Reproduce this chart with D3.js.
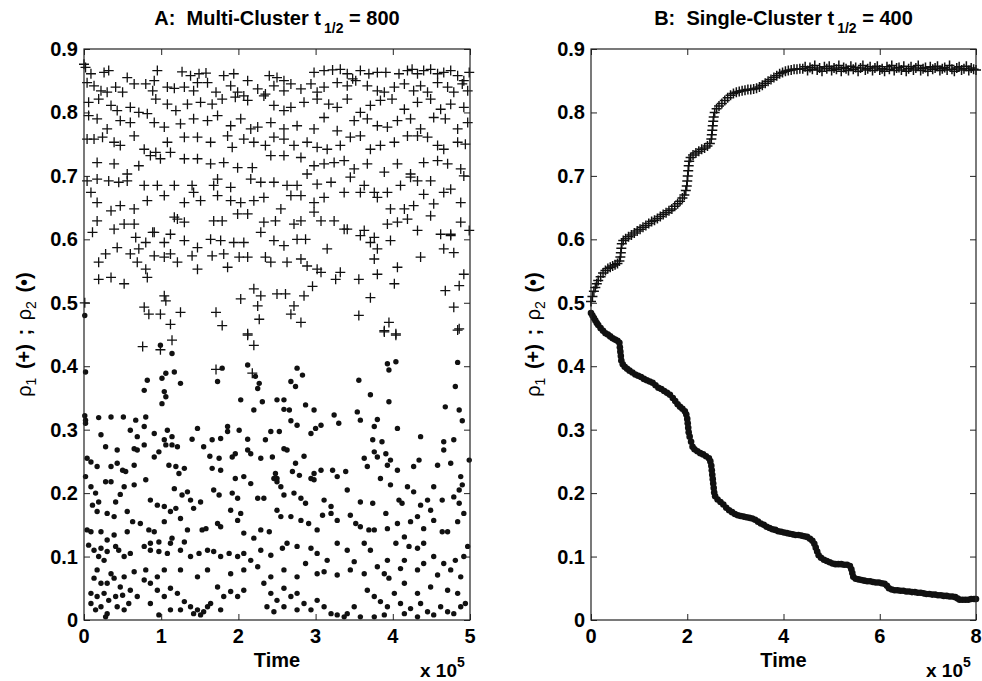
<!DOCTYPE html>
<html><head><meta charset="utf-8">
<script src="https://cdn.jsdelivr.net/npm/d3@7"></script>
<style>
body{margin:0;background:#fff}
svg{display:block}
text{font-family:"Liberation Sans",Arial,Helvetica,sans-serif;font-weight:bold;fill:#000;white-space:pre}
</style></head>
<body><svg id="c" width="982" height="681"></svg>
<script>
// ---------- data ----------
const yTicks = [0,0.1,0.2,0.3,0.4,0.5,0.6,0.7,0.8,0.9];
const yTickLabels = ["0","0.1","0.2","0.3","0.4","0.5","0.6","0.7","0.8","0.9"];
const xTicksA = [0,1,2,3,4,5];
const xTicksB = [0,2,4,6,8];
const titleA = ["A:  Multi-Cluster t","1/2"," = 800"];
const titleB = ["B:  Single-Cluster t","1/2"," = 400"];

// Panel A, rho1 (+) : [time (x1e5), value]
const plusA = [
[0.01,.500],[0.00,.876],
[0.02,.871],[0.09,.861],[0.26,.863],[0.32,.866],[0.56,.855],[0.95,.866],[1.27,.864],[1.38,.858],[1.49,.861],[1.58,.862],[1.81,.858],[1.94,.861],[2.12,.850],[2.40,.858],[2.50,.855],[2.59,.850],[2.98,.863],[3.11,.866],[3.22,.867],[3.32,.868],[3.41,.861],[3.48,.853],[3.58,.866],[3.69,.861],[3.80,.863],[3.91,.863],[4.08,.861],[4.19,.866],[4.25,.868],[4.32,.861],[4.40,.866],[4.49,.868],[4.58,.861],[4.66,.863],[4.75,.866],[4.84,.858],[4.92,.850],[4.99,.863],
[0.04,.847],[0.13,.842],[0.22,.834],[0.30,.832],[0.41,.840],[0.50,.832],[0.65,.845],[0.80,.845],[0.91,.850],[0.89,.834],[1.08,.840],[1.17,.838],[1.30,.840],[1.42,.834],[1.47,.847],[1.60,.847],[1.71,.832],[1.90,.842],[1.99,.832],[2.07,.826],[2.25,.837],[2.35,.829],[2.46,.842],[2.59,.834],[2.68,.845],[2.81,.837],[2.94,.845],[3.02,.832],[3.11,.840],[3.28,.847],[3.41,.842],[3.52,.850],[3.67,.842],[3.80,.834],[3.89,.832],[4.02,.840],[4.15,.845],[4.27,.834],[4.36,.842],[4.45,.832],[4.58,.847],[4.71,.840],[4.79,.832],[4.90,.845],[4.97,.834],
[0.06,.816],[0.19,.821],[0.35,.811],[0.43,.803],[0.60,.808],[0.71,.800],[0.93,.821],[1.08,.813],[1.19,.803],[1.34,.813],[1.51,.816],[1.66,.813],[1.79,.821],[1.96,.824],[2.12,.819],[2.33,.826],[2.46,.811],[2.59,.803],[2.68,.808],[2.85,.816],[3.02,.821],[3.17,.813],[3.28,.808],[3.41,.821],[3.58,.800],[3.71,.811],[3.84,.819],[3.99,.821],[4.15,.805],[4.32,.816],[4.49,.821],[4.62,.805],[4.75,.813],[4.92,.808],
[0.06,.795],[0.17,.790],[0.30,.774],[0.47,.787],[0.60,.784],[0.82,.798],[0.91,.784],[1.04,.777],[1.25,.782],[1.42,.790],[1.60,.787],[1.73,.795],[1.90,.779],[2.03,.790],[2.16,.774],[2.25,.777],[2.42,.784],[2.59,.774],[2.76,.779],[2.98,.774],[3.11,.792],[3.28,.771],[3.50,.787],[3.67,.790],[3.80,.779],[3.93,.777],[4.06,.787],[4.23,.790],[4.36,.774],[4.53,.792],[4.68,.790],[4.84,.774],[4.97,.784],
[0.04,.758],[0.13,.758],[0.24,.761],[0.39,.753],[0.47,.748],[0.65,.763],[0.78,.742],[0.93,.737],[1.08,.753],[1.30,.761],[1.47,.761],[1.64,.753],[1.86,.763],[1.92,.745],[2.07,.758],[2.20,.753],[2.35,.748],[2.46,.761],[2.59,.758],[2.72,.748],[2.89,.753],[3.02,.745],[3.15,.742],[3.32,.748],[3.45,.761],[3.58,.763],[3.71,.742],[3.84,.748],[4.02,.753],[4.19,.763],[4.32,.763],[4.45,.761],[4.58,.748],[4.66,.742],[4.84,.753],[4.94,.750],
[0.17,.721],[0.39,.719],[0.56,.703],[0.71,.716],[0.86,.732],[0.99,.727],[1.12,.737],[1.30,.727],[1.47,.727],[1.64,.719],[1.81,.721],[1.99,.713],[2.18,.713],[2.42,.732],[2.59,.732],[2.81,.729],[2.98,.716],[3.11,.719],[3.24,.721],[3.37,.724],[3.50,.711],[3.67,.719],[3.89,.706],[4.06,.719],[4.23,.703],[4.40,.721],[4.58,.724],[4.71,.719],[4.88,.711],
[0.04,.692],[0.17,.695],[0.32,.692],[0.45,.690],[0.56,.692],[0.78,.685],[0.95,.685],[1.17,.685],[1.40,.685],[1.68,.685],[1.73,.695],[1.90,.682],[2.16,.695],[2.29,.690],[2.46,.690],[2.63,.685],[2.76,.685],[2.89,.703],[3.02,.687],[3.20,.690],[3.45,.698],[3.63,.685],[3.76,.674],[3.93,.674],[4.10,.685],[4.23,.698],[4.32,.692],[4.49,.692],[4.75,.679],[4.92,.700],
[0.09,.674],[0.17,.658],[0.35,.645],[0.47,.653],[0.65,.648],[0.82,.661],[1.04,.669],[1.30,.658],[1.42,.674],[1.51,.661],[1.73,.669],[1.90,.661],[2.03,.658],[2.20,.661],[2.33,.666],[2.55,.648],[2.68,.669],[2.81,.669],[2.98,.658],[3.11,.666],[3.37,.674],[3.58,.674],[3.80,.666],[3.97,.648],[4.15,.648],[4.27,.653],[4.40,.671],[4.53,.656],[4.66,.674],[4.88,.658],
[0.17,.629],[0.39,.616],[0.52,.624],[0.65,.624],[0.89,.611],[1.17,.635],[1.21,.632],[1.30,.627],[1.68,.629],[1.79,.629],[1.99,.640],[2.12,.640],[2.33,.627],[2.48,.629],[2.72,.624],[2.81,.629],[2.98,.643],[3.07,.629],[3.24,.629],[3.41,.616],[3.63,.614],[3.76,.603],[3.93,.624],[4.06,.627],[4.19,.632],[4.32,.614],[4.49,.637],[4.62,.608],[4.75,.608],[4.88,.627],[4.99,.614],
[0.11,.611],[0.43,.587],[0.67,.603],[0.71,.585],[0.80,.595],[0.91,.611],[1.04,.595],[1.12,.608],[1.30,.598],[1.47,.587],[1.64,.600],[1.77,.598],[1.94,.595],[2.07,.595],[2.29,.611],[2.46,.598],[2.59,.590],[2.76,.600],[2.87,.600],[3.15,.585],[3.37,.616],[3.58,.606],[3.71,.595],[3.80,.585],[3.97,.598],[4.36,.572],[4.66,.585],[4.79,.579],[4.75,.606],
[0.19,.564],[0.28,.577],[0.60,.577],[0.69,.564],[0.80,.553],[0.91,.574],[1.04,.572],[1.12,.577],[1.21,.564],[1.40,.574],[1.47,.553],[1.66,.574],[1.81,.577],[1.86,.556],[2.01,.572],[2.12,.572],[2.35,.572],[2.42,.564],[2.63,.564],[2.81,.569],[2.89,.558],[3.02,.553],[3.07,.548],[3.26,.537],[3.32,.548],[3.56,.537],[3.76,.569],[3.80,.545],[4.06,.556],[4.92,.545],[0.19,.537],[0.35,.540],[0.52,.530],[0.82,.540],
[1.04,.511],[1.06,.503],[0.78,.493],[0.84,.482],[0.99,.482],[1.12,.466],[1.25,.485],[1.71,.485],[1.79,.464],[2.03,.506],[2.12,.451],[2.20,.522],[2.29,.511],[2.25,.495],[2.27,.474],[2.50,.514],[2.61,.514],[2.72,.495],[2.68,.482],[2.81,.469],[2.85,.511],[2.96,.526],[3.56,.480],[3.71,.508],[3.89,.456],[3.95,.469],[4.02,.530],[4.04,.451],[4.68,.519],[4.79,.493],[4.86,.527],[4.86,.459],
[0.76,.431],[0.99,.426],[1.14,.441],[1.71,.395],[2.12,.449],[2.20,.433],[2.18,.389],[3.89,.454],[4.04,.449],[4.84,.457]
];

// Panel A, rho2 (dot) : [time (x1e5), value]
const dotA = [
[0.01,.480],
[1.14,.420],[0.78,.362],[0.82,.378],[1.01,.381],[1.06,.389],[1.17,.391],[1.25,.373],[1.04,.360],[1.06,.352],[1.01,.341],[1.73,.376],[1.79,.397],[2.12,.402],[2.22,.384],[2.25,.365],[2.27,.373],[2.03,.347],[2.20,.331],[2.31,.344],[2.50,.347],[2.59,.347],[2.76,.397],[2.83,.386],[2.68,.376],[2.74,.368],[3.56,.378],[3.71,.355],[3.93,.404],[3.95,.394],[4.04,.407],[3.95,.344],[4.84,.406],[4.81,.368],[4.86,.331],[4.90,.314],[4.68,.336],[0.02,.391],[0.99,.433],
[0.02,.315],[0.02,.310],[0.01,.322],[0.19,.319],[0.35,.320],[0.51,.320],[0.67,.315],[0.80,.320],[0.78,.305],[0.60,.299],[0.69,.289],[0.22,.292],[0.91,.294],[1.08,.299],[1.04,.284],[1.14,.289],[1.40,.285],[1.47,.302],[1.66,.284],[1.77,.286],[1.86,.305],[1.86,.297],[2.01,.299],[2.12,.285],[2.35,.284],[2.42,.297],[2.53,.297],[2.59,.332],[2.66,.331],[2.68,.314],[2.76,.307],[2.87,.339],[2.98,.331],[2.94,.294],[3.00,.302],[3.07,.307],[3.24,.323],[3.30,.310],[3.54,.328],[3.58,.315],[3.80,.316],[3.76,.305],[3.74,.284],[3.86,.281],[4.06,.302],[4.36,.289],[4.66,.281],[4.79,.284],
[0.04,.255],[0.09,.249],[0.17,.242],[0.28,.273],[0.43,.268],[0.35,.242],[0.43,.247],[0.50,.236],[0.54,.234],[0.65,.244],[0.65,.270],[0.78,.276],[0.69,.268],[0.91,.257],[0.97,.265],[1.06,.276],[1.14,.276],[1.21,.273],[1.10,.244],[1.19,.242],[1.30,.239],[1.23,.231],[1.55,.273],[1.63,.258],[1.75,.255],[1.66,.239],[1.77,.236],[1.92,.257],[1.96,.262],[2.12,.268],[2.16,.262],[2.29,.255],[2.44,.257],[2.59,.270],[2.63,.268],[2.48,.231],[2.50,.223],[2.70,.234],[2.79,.228],[2.74,.247],[2.85,.258],[2.98,.231],[3.07,.236],[2.94,.223],[3.22,.236],[3.28,.226],[3.39,.234],[3.63,.255],[3.67,.242],[3.76,.265],[3.80,.257],[3.91,.262],[3.93,.244],[3.97,.252],[4.06,.236],[4.27,.242],[4.34,.252],[4.58,.244],[4.75,.247],[4.88,.226],[4.99,.252],[4.66,.268],
[0.02,.226],[0.09,.210],[0.15,.200],[0.11,.181],[0.19,.186],[0.28,.218],[0.35,.218],[0.47,.198],[0.41,.186],[0.52,.210],[0.65,.213],[0.80,.221],[0.86,.189],[0.95,.181],[1.04,.179],[1.12,.171],[1.19,.176],[1.17,.207],[1.27,.197],[1.34,.202],[1.38,.189],[1.51,.186],[1.68,.205],[1.75,.197],[1.92,.200],[1.99,.192],[1.96,.223],[2.07,.226],[2.16,.215],[2.25,.192],[2.33,.192],[2.46,.223],[2.50,.218],[2.55,.210],[2.59,.197],[2.72,.200],[2.81,.192],[2.87,.184],[2.98,.221],[3.11,.189],[3.20,.179],[3.41,.205],[3.58,.186],[3.74,.184],[3.84,.223],[3.97,.213],[4.08,.189],[4.12,.184],[4.19,.210],[4.27,.202],[4.36,.181],[4.45,.189],[4.53,.210],[4.64,.189],[4.79,.194],[4.86,.205],[4.90,.213],[4.86,.184],
[0.17,.171],[0.30,.168],[0.39,.163],[0.56,.171],[0.63,.155],[0.73,.152],[0.84,.142],[0.91,.139],[1.04,.155],[1.25,.160],[1.34,.142],[1.42,.176],[1.53,.142],[1.58,.144],[1.73,.152],[1.77,.147],[1.90,.173],[1.99,.157],[2.03,.168],[2.07,.137],[2.20,.129],[2.29,.142],[2.40,.139],[2.50,.173],[2.55,.163],[2.68,.163],[2.81,.157],[2.91,.152],[3.02,.142],[3.09,.165],[3.20,.168],[3.28,.157],[3.45,.165],[3.52,.152],[3.58,.147],[3.69,.142],[3.76,.142],[3.91,.168],[3.93,.144],[4.06,.152],[4.15,.131],[4.23,.155],[4.32,.163],[4.40,.144],[4.49,.173],[4.53,.157],[4.64,.139],[4.71,.139],[4.84,.155],[4.92,.168],[0.04,.142],[0.09,.139],[0.22,.139],[0.30,.126],[0.39,.134],[0.56,.139],[0.86,.121],[0.97,.123],[1.12,.121],[1.14,.129],[1.30,.123],
[0.06,.118],[0.13,.110],[0.22,.113],[0.30,.108],[0.41,.116],[0.45,.110],[0.19,.100],[0.26,.094],[0.52,.100],[0.60,.105],[0.78,.116],[0.86,.110],[0.97,.108],[1.08,.105],[1.25,.110],[1.38,.100],[1.49,.105],[1.60,.110],[1.68,.108],[1.77,.100],[1.88,.105],[1.99,.100],[2.07,.105],[2.16,.094],[2.29,.110],[2.42,.102],[2.57,.113],[2.63,.121],[2.76,.116],[2.87,.089],[2.94,.113],[3.02,.105],[3.15,.094],[3.28,.121],[3.41,.110],[3.50,.092],[3.63,.121],[3.71,.110],[3.80,.084],[3.93,.094],[4.04,.121],[4.15,.094],[4.21,.116],[4.32,.113],[4.40,.121],[4.53,.100],[4.66,.089],[4.81,.094],[4.92,.100],[4.97,.116],
[0.17,.079],[0.35,.073],[0.52,.068],[0.65,.076],[0.80,.079],[0.95,.068],[1.04,.079],[1.25,.079],[1.47,.068],[1.60,.079],[1.90,.073],[2.07,.079],[2.25,.084],[2.42,.068],[2.59,.079],[2.76,.068],[3.02,.073],[3.11,.076],[3.28,.071],[3.45,.079],[3.63,.073],[3.89,.073],[4.10,.081],[4.32,.079],[4.40,.089],[4.58,.071],[4.75,.079],[4.88,.068],
[0.13,.066],[0.22,.058],[0.30,.058],[0.39,.066],[0.47,.052],[0.60,.047],[0.69,.037],[0.78,.063],[0.09,.042],[0.17,.037],[0.26,.042],[0.32,.031],[0.41,.037],[0.50,.039],[0.58,.026],[0.09,.026],[0.22,.021],[0.30,.010],[0.43,.021],[0.52,.016],[0.15,.016],[0.28,.005],[0.86,.058],[0.95,.047],[1.04,.037],[1.12,.050],[1.21,.042],[1.30,.029],[1.38,.021],[1.47,.016],[1.55,.013],[1.64,.026],[0.86,.026],[0.97,.008],[1.12,.016],[1.25,.016],[1.42,.010],[1.51,.008],[1.60,.021],[1.77,.016],[1.81,.037],[1.90,.045],[1.99,.037],[2.07,.047],[1.73,.052],[2.33,.058],[2.42,.042],[2.50,.031],[2.59,.050],[2.68,.037],[2.76,.042],[2.85,.026],[3.02,.031],[3.11,.021],[3.20,.010],[3.28,.008],[3.37,.005],[3.41,.010],[3.50,.021],[3.58,.005],[2.37,.021],[2.46,.013],[2.59,.021],[2.76,.016],[2.94,.016],[3.67,.047],[3.76,.037],[3.84,.029],[3.93,.021],[4.02,.042],[4.10,.026],[4.15,.010],[4.23,.018],[4.32,.042],[4.36,.026],[4.45,.013],[4.53,.008],[4.62,.021],[4.71,.013],[4.79,.010],[4.88,.021],[4.94,.026],[4.84,.042],[4.71,.047],[4.49,.052],[4.15,.058],[3.95,.066],[3.76,.005],[3.89,.008],[4.32,.005]
];

// Panel B, rho1 (+)
const plusB = [
[0.00,.502],[0.03,.510],[0.06,.518],[0.09,.524],[0.12,.530],[0.15,.535],[0.20,.541],[0.25,.547],[0.30,.551],[0.35,.554],[0.40,.556],[0.45,.558],[0.50,.560],[0.55,.562],[0.59,.566],[0.61,.572],[0.62,.579],[0.63,.586],[0.64,.593],[0.67,.598],[0.72,.601],[0.78,.604],[0.84,.607],[0.90,.610],[0.96,.613],[1.02,.616],[1.08,.619],[1.14,.622],[1.20,.625],[1.26,.628],[1.32,.630],[1.38,.633],[1.44,.636],[1.50,.639],[1.56,.642],[1.62,.645],[1.68,.648],[1.74,.652],[1.80,.656],[1.85,.660],[1.90,.665],[1.94,.670],[1.97,.677],[1.99,.684],[2.00,.692],[2.01,.700],[2.02,.708],[2.03,.716],[2.04,.723],[2.07,.729],[2.12,.733],[2.18,.736],[2.24,.739],[2.30,.742],[2.36,.744],[2.42,.747],[2.47,.751],[2.50,.758],[2.51,.765],[2.52,.772],[2.53,.779],[2.54,.786],[2.55,.793],[2.57,.800],[2.61,.806],[2.66,.810],[2.72,.814],[2.78,.819],[2.84,.823],[2.90,.827],[2.96,.830],[3.02,.832],[3.08,.833],[3.14,.834],[3.20,.835],[3.26,.836],[3.32,.836],[3.38,.837],[3.44,.838],[3.50,.840],[3.56,.843],[3.62,.846],[3.68,.849],[3.74,.852],[3.80,.855],[3.86,.858],[3.92,.861],[3.98,.863],[4.04,.865],[4.10,.866],[4.16,.867],[4.22,.868],[4.28,.868],[4.34,.869],
[4.40,.869],[4.45,.872],[4.50,.866],[4.55,.871],[4.60,.868],[4.65,.874],[4.70,.867],[4.75,.870],[4.80,.865],[4.85,.872],[4.90,.869],[4.95,.873],[5.00,.866],[5.05,.870],[5.10,.868],[5.15,.874],[5.20,.865],[5.25,.871],[5.30,.869],[5.35,.866],[5.40,.873],[5.45,.868],[5.50,.871],[5.55,.865],[5.60,.870],[5.65,.874],[5.70,.867],[5.75,.869],[5.80,.872],[5.85,.866],[5.90,.870],[5.95,.873],[6.00,.867],[6.05,.869],[6.10,.865],[6.15,.872],[6.20,.868],[6.25,.874],[6.30,.866],[6.35,.870],[6.40,.871],[6.45,.867],[6.50,.873],[6.55,.865],[6.60,.869],[6.65,.872],[6.70,.867],[6.75,.870],[6.80,.874],[6.85,.866],[6.90,.869],[6.95,.871],[7.00,.865],[7.05,.872],[7.10,.868],[7.15,.870],[7.20,.873],[7.25,.866],[7.30,.869],[7.35,.871],[7.40,.867],[7.45,.874],[7.50,.868],[7.55,.865],[7.60,.870],[7.65,.872],[7.70,.867],[7.75,.869],[7.80,.873],[7.85,.866],[7.90,.870],[7.95,.868],[8.00,.867]
];

// Panel B, rho2 (dot)
const dotB = [
[0.00,.484],[0.03,.480],[0.06,.476],[0.09,.472],[0.12,.468],[0.15,.465],[0.20,.460],[0.25,.456],[0.30,.452],[0.35,.450],[0.40,.447],[0.45,.444],[0.50,.442],[0.55,.440],[0.59,.437],[0.60,.430],[0.61,.423],[0.62,.416],[0.63,.409],[0.66,.403],[0.70,.399],[0.75,.396],[0.80,.393],[0.86,.390],[0.92,.387],[0.98,.385],[1.04,.383],[1.10,.380],[1.16,.378],[1.22,.376],[1.28,.374],[1.34,.370],[1.40,.366],[1.46,.364],[1.52,.361],[1.58,.358],[1.64,.355],[1.70,.350],[1.75,.345],[1.80,.340],[1.85,.336],[1.90,.333],[1.95,.329],[1.98,.324],[2.00,.317],[2.01,.310],[2.02,.303],[2.03,.296],[2.05,.289],[2.08,.281],[2.11,.273],[2.15,.269],[2.21,.266],[2.27,.263],[2.33,.261],[2.39,.258],[2.45,.255],[2.48,.250],[2.50,.243],[2.51,.236],[2.52,.229],[2.53,.222],[2.54,.215],[2.55,.208],[2.56,.201],[2.58,.195],[2.63,.190],[2.69,.186],[2.75,.182],[2.81,.177],[2.87,.173],[2.93,.170],[2.99,.167],[3.05,.165],[3.11,.164],[3.17,.163],[3.23,.162],[3.29,.161],[3.35,.160],[3.41,.158],[3.47,.155],[3.53,.152],[3.59,.150],[3.65,.147],[3.71,.145],[3.77,.143],[3.83,.142],[3.89,.140],[3.95,.139],[4.01,.138],[4.07,.137],[4.13,.136],[4.19,.135],[4.25,.134],[4.31,.134],[4.37,.133],[4.43,.132],[4.49,.131],[4.55,.128],[4.60,.125],[4.64,.120],[4.67,.114],[4.70,.108],[4.73,.102],[4.78,.098],[4.84,.095],[4.90,.093],[4.96,.091],[5.02,.089],[5.08,.088],[5.14,.088],[5.20,.088],[5.26,.087],[5.32,.087],[5.38,.085],[5.41,.080],[5.43,.074],[5.45,.068],[5.50,.065],[5.56,.064],[5.62,.063],[5.68,.062],[5.74,.061],[5.80,.061],[5.86,.060],[5.92,.059],[5.98,.059],[6.04,.058],[6.10,.057],[6.15,.054],[6.19,.050],[6.25,.048],[6.31,.047],[6.37,.047],[6.43,.046],[6.49,.046],[6.55,.045],[6.61,.045],[6.67,.044],[6.73,.044],[6.79,.043],[6.85,.043],[6.91,.042],[6.97,.041],[7.03,.041],[7.09,.040],[7.15,.040],[7.21,.039],[7.27,.039],[7.33,.038],[7.39,.038],[7.45,.037],[7.51,.037],[7.57,.036],[7.62,.034],[7.66,.032],[7.72,.032],[7.78,.032],[7.84,.032],[7.90,.033],[7.96,.033],[8.00,.033]
];

// ---------- drawing ----------
const svg = d3.select("#c");
const FS = 20;

function panel(cfg){
  const x = d3.scaleLinear().domain(cfg.xDomain).range([cfg.left, cfg.right]);
  const y = d3.scaleLinear().domain([0,0.9]).range([cfg.bottom, cfg.top]);
  const g = svg.append("g");
  const tl = 6;

  // markers
  g.append("g").selectAll("path").data(cfg.plus).join("path")
    .attr("d", d => `M${x(d[0])-cfg.ps},${y(d[1])}h${2*cfg.ps}M${x(d[0])},${y(d[1])-cfg.ps}v${2*cfg.ps}`)
    .attr("stroke", "#111").attr("stroke-width", cfg.pw).attr("fill", "none");
  g.append("g").selectAll("circle").data(cfg.dots).join("circle")
    .attr("cx", d => x(d[0])).attr("cy", d => y(d[1])).attr("r", cfg.dr).attr("fill", "#111");

  // axes (ticks inward, all four sides)
  const axB = d3.axisBottom(x).tickValues(cfg.xTicks).tickSize(-tl).tickFormat("");
  const axT = d3.axisTop(x).tickValues(cfg.xTicks).tickSize(-tl).tickFormat("");
  const axL = d3.axisLeft(y).tickValues(yTicks).tickSize(-tl).tickFormat("");
  const axR = d3.axisRight(y).tickValues(yTicks).tickSize(-tl).tickFormat("");
  const style = s => { s.select(".domain").remove(); s.selectAll("line").attr("stroke","#222").attr("stroke-width",1); };
  g.append("g").attr("transform",`translate(0,${cfg.bottom})`).call(axB).call(style);
  g.append("g").attr("transform",`translate(0,${cfg.top})`).call(axT).call(style);
  g.append("g").attr("transform",`translate(${cfg.left},0)`).call(axL).call(style);
  g.append("g").attr("transform",`translate(${cfg.right},0)`).call(axR).call(style);
  g.append("rect").attr("x",cfg.left).attr("y",cfg.top)
    .attr("width",cfg.right-cfg.left).attr("height",cfg.bottom-cfg.top)
    .attr("fill","none").attr("stroke","#222").attr("stroke-width",1.2);

  // tick labels
  g.append("g").selectAll("text").data(yTicks).join("text")
    .attr("x", cfg.left-6).attr("y", d => y(d)+7).attr("text-anchor","end")
    .attr("font-size", FS).text((d,i) => yTickLabels[i]);
  g.append("g").selectAll("text").data(cfg.xTicks).join("text")
    .attr("x", d => x(d)).attr("y", cfg.bottom+23).attr("text-anchor","middle")
    .attr("font-size", FS).text(d => String(d));

  // x label
  g.append("text").attr("x",(cfg.left+cfg.right)/2).attr("y",cfg.bottom+47)
    .attr("text-anchor","middle").attr("font-size",20).text("Time");
  const ex = g.append("text").attr("x",cfg.right-50).attr("y",cfg.bottom+57).attr("font-size",19);
  ex.append("tspan").text("x 10");
  ex.append("tspan").attr("dy",-10).attr("font-size",14).text("5");

  // title
  const t = g.append("text").attr("x",(cfg.left+cfg.right)/2).attr("y",cfg.top-24)
    .attr("text-anchor","middle").attr("font-size",FS);
  t.append("tspan").text(cfg.title[0]);
  t.append("tspan").attr("dy",8).attr("dx",3).attr("font-size",14).text(cfg.title[1]);
  t.append("tspan").attr("dy",-8).text(cfg.title[2]);

  // y label
  const yl = g.append("text")
    .attr("transform",`translate(${cfg.ylx},${(cfg.top+cfg.bottom)/2}) rotate(-90)`)
    .attr("text-anchor","middle").attr("font-size",20).attr("word-spacing",3);
  yl.append("tspan").attr("font-weight","normal").text("\u03C1");
  yl.append("tspan").attr("dy",5).attr("font-size",14).attr("font-weight","normal").text("1");
  yl.append("tspan").attr("dy",-5).text(" (+) ; ");
  yl.append("tspan").attr("font-weight","normal").text("\u03C1");
  yl.append("tspan").attr("dy",5).attr("font-size",14).attr("font-weight","normal").text("2");
  yl.append("tspan").attr("dy",-5).text(" (\u2022)");
}

panel({left:84,right:470,top:49,bottom:620,xDomain:[0,5],xTicks:xTicksA,
       plus:plusA,dots:dotA,ps:5,pw:1.3,dr:2.7,title:titleA,ylx:31});
panel({left:591,right:976,top:49,bottom:620,xDomain:[0,8],xTicks:xTicksB,
       plus:plusB,dots:dotB,ps:5,pw:1.5,dr:3.3,title:titleB,ylx:540});
</script></body></html>
